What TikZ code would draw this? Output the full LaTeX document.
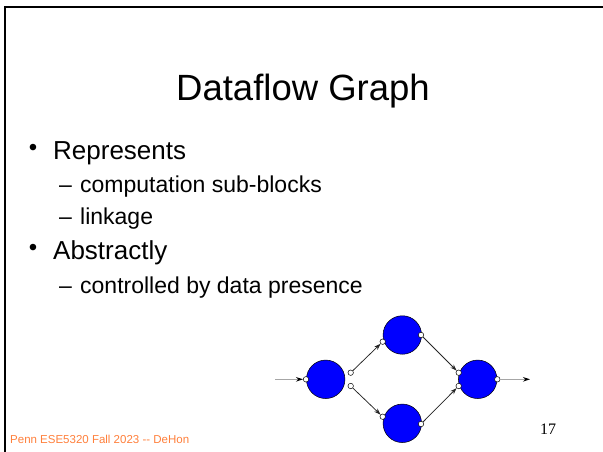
\documentclass[tikz,border=0pt]{standalone}
\usepackage{fontspec}
\setmainfont{Liberation Sans}
\newfontfamily\numfont{Liberation Serif}
\usetikzlibrary{arrows.meta}
\definecolor{footorange}{RGB}{255,128,60}
\definecolor{nodeblue}{RGB}{0,0,255}
\begin{document}
\begin{tikzpicture}[x=1pt,y=-1pt,
  txt/.style={anchor=base west, inner sep=0pt},
  lvlone/.style={txt, font=\fontsize{26}{30}\selectfont},
  lvltwo/.style={txt, font=\fontsize{23}{27}\selectfont},
  dot/.style={anchor=base, inner sep=0pt, font=\fontsize{24}{26}\selectfont},
  actor/.style={circle, draw=black, line width=0.5pt, fill=nodeblue, minimum size=38.5pt, inner sep=0pt},
  port/.style={circle, draw=black, line width=0.5pt, fill=white, minimum size=5.5pt, inner sep=0pt},
  link/.style={-{Stealth[length=6.5pt,width=4.5pt]}, line width=0.75pt, draw=black!85},
  io/.style={line width=1.3pt, draw=black!35}
]
\useasboundingbox (0,0) rectangle (603,452);
\fill[white] (0,0) rectangle (603,452);
% slide frame
\draw[line width=2.5pt] (603,7) -- (5,7) -- (5,452);

% title
\node[anchor=base, inner sep=0pt, font=\fontsize{36.5}{40}\selectfont] (title) at (303,101) {Dataflow Graph};

% bullet list
\node[dot] (d1) at (33,155) {•};
\node[lvlone] (b1) at (53,159) {Represents};
\node[lvltwo] (e1) at (59,192) {–};
\node[lvltwo] (s1) at (80,192) {computation sub-blocks};
\node[lvltwo] (e2) at (59,224) {–};
\node[lvltwo] (s2) at (80,224) {linkage};
\node[dot] (d2) at (33,255) {•};
\node[lvlone] (b2) at (53,259) {Abstractly};
\node[lvltwo] (e3) at (59,293) {–};
\node[lvltwo] (s3) at (80,293) {controlled by data presence};

% dataflow actors
\node[actor] (L) at (325.7,379.3) {};
\node[actor] (T) at (402.3,335) {};
\node[actor] (B) at (402.3,423.3) {};
\node[actor] (R) at (477.7,379.3) {};

% ports
\node[port] (Lin)  at (306,379.3) {};
\node[port] (Lo1)  at (350.7,372.7) {};
\node[port] (Lo2)  at (350.7,386) {};
\node[port] (Tin)  at (382.7,341.7) {};
\node[port] (Tout) at (421,335) {};
\node[port] (Bin)  at (382.7,416.7) {};
\node[port] (Bout) at (421,424) {};
\node[port] (Rin1) at (458.7,372.7) {};
\node[port] (Rin2) at (458.7,386) {};
\node[port] (Rout) at (497.3,379.3) {};

\coordinate (src) at (275,379.3);
\coordinate (snk) at (530,379.3);

% connections
\draw[io, -{Stealth[length=7pt,width=4.5pt,color=black]}] (src) -- (Lin);
\draw[link] (Lo1) -- (Tin);
\draw[link] (Lo2) -- (Bin);
\draw[link] (Tout) -- (Rin1);
\draw[link] (Bout) -- (Rin2);
\draw[io, -{Stealth[length=7pt,width=4.5pt,color=black]}] (Rout) -- (snk);

% footer and page number
\node[txt, font=\fontsize{11.5}{13}\selectfont, text=footorange] (foot) at (10,443) {Penn ESE5320 Fall 2023 \mbox{-}\mbox{-} DeHon};
\node[txt, font=\numfont\fontsize{16}{18}\selectfont] (pg) at (540,434) {17};
\end{tikzpicture}
\end{document}
